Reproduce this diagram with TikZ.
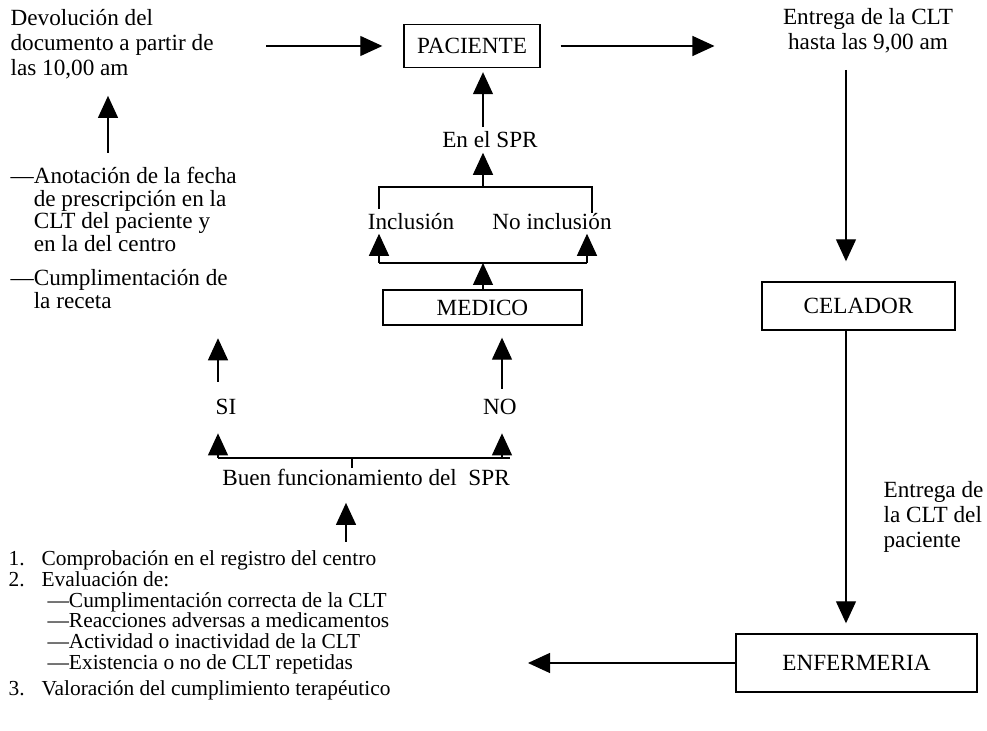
\documentclass[tikz,border=0pt]{standalone}
\usepackage{fontspec}
\setmainfont{Liberation Serif}
\usetikzlibrary{arrows.meta}
\usetikzlibrary{calc}
\usetikzlibrary{positioning}

\begin{document}
\begin{tikzpicture}[
			x=0.5pt, y=-0.5pt,
			line width=0.6pt,
			every node/.style={font=\fontsize{11.6}{12.5}\selectfont, inner sep=0pt},
			box/.style={draw, line width=0.7pt, minimum height=24pt},
			arr/.style={-{Triangle[length=11pt, width=10pt]}},
			lista/.style={font=\fontsize{10.7}{10.4}\selectfont, align=left, anchor=north west}
		]

		\useasboundingbox (0,0) rectangle (987,731);

		% boxes
		\node[box, minimum width=68pt, minimum height=21.5pt] (pac) at (472,46) {PACIENTE};
		\node[box, minimum width=99.5pt, minimum height=17.5pt] (med) at (482.5,307.5) {MEDICO};
		\node[box, minimum width=96.5pt] (cel) at (858.5,306) {CELADOR};
		\node[box, minimum width=120.5pt, minimum height=29pt] (enf) at (856.5,663) {ENFERMERIA};

		% texts
		\node[anchor=north west, align=left] (devol) at (10,9) {Devolución del\\documento a partir de\\las 10,00 am};
		\node[align=center] (entrega) at (868,31) {Entrega de la CLT\\hasta las 9,00 am};
		\node[anchor=north west, align=left, font=\fontsize{11.6}{11.25}\selectfont] (anot) at (10,167)
			{—Anotación de la fecha\\\hspace*{11.6pt}de prescripción en la\\\hspace*{11.6pt}CLT del paciente y\\\hspace*{11.6pt}en la del centro\\[6pt]
			 —Cumplimentación de\\\hspace*{11.6pt}la receta};
		\node (enel) at (490,140) {En el SPR};
		\node (incl) at (411,222) {Inclusión};
		\node (noincl) at (552,222) {No inclusión};
		\node (si) at (226,407) {SI};
		\node (no) at (500,407) {NO};
		\node (buen) at (366,477) {Buen funcionamiento del~ SPR};
		\node[anchor=north west, align=left] (pac2) at (883,481) {Entrega de\\la CLT del\\paciente};
		\node[lista] (lst) at (8,550)
			{\makebox[16.5pt][l]{1.}Comprobación en el registro del centro\\
			 \makebox[16.5pt][l]{2.}Evaluación de:\\
			 \hspace*{19.5pt}—Cumplimentación correcta de la CLT\\
			 \hspace*{19.5pt}—Reacciones adversas a medicamentos\\
			 \hspace*{19.5pt}—Actividad o inactividad de la CLT\\
			 \hspace*{19.5pt}—Existencia o no de CLT repetidas\\[2.5pt]
			 \makebox[16.5pt][l]{3.}Valoración del cumplimiento terapéutico};

		% columns and branch points
		\coordinate (colL) at (108,0);
		\coordinate (colM) at (483,0);
		\coordinate (colR) at (846,0);
		\coordinate (colB) at (346,0);
		\coordinate (bl) at (218,458);
		\coordinate (br) at (502,458);
		\coordinate (bre) at (510,458);
		\coordinate (bbl) at (379,263);
		\coordinate (bbr) at (587,263);
		\coordinate (btl) at (379,187);
		\coordinate (btr) at (592,187);
		\coordinate (enfo) at (528,663);

		% top row
		\draw[arr, shorten <=26pt, shorten >=10.5pt] (devol.east |- pac.west) -- (pac.west);
		\draw[arr, shorten <=10pt, shorten >=34pt] (pac.east) -- (pac.east -| entrega.west);

		% right column
		\draw[arr, shorten <=8pt, shorten >=10pt] (entrega.south -| colR) -- (cel.north -| colR);
		\draw[arr, shorten >=5pt] (cel.south -| colR) -- (enf.north -| colR);
		\draw[arr] (enf.west) -- (enfo);

		% left column
		\draw[arr, shorten <=7pt, shorten >=8pt] (anot.north -| colL) -- (devol.south -| colL);
		\draw[arr, shorten <=8.5pt, shorten >=14.5pt] (si.north -| bl) -- (anot.south -| bl);

		% SI / NO branch
		\draw (bl) -- (bre);
		\draw (buen.north -| colB) ++(6,0) -- (bl -| {$(colB)+(6,0)$});
		\foreach \p in {bl, br}
			\draw[arr, shorten >=9pt] (\p) -- (si.south -| \p);
		\draw[arr, shorten <=5pt, shorten >=6pt] (no.north -| br) -- (med.south -| br);
		\draw[arr, shorten <=4pt, shorten >=8.5pt] (lst.north -| colB) -- (buen.south -| colB);

		% medico bracket
		\draw (bbl) -- (bbr);
		\draw[arr] (med.north -| colM) -- (bbl -| colM);
		\draw[arr, shorten >=1.5pt] (bbl) -- (incl.south -| bbl);
		\draw[arr, shorten >=1.5pt] (bbr) -- (noincl.south -| bbr);
		\draw[shorten <=2pt] (incl.north -| btl) -- (btl) -- (btr) -- (noincl.north -| btr);
		\draw[arr, shorten >=2pt] (btl -| colM) -- (enel.south -| colM);
		\draw[arr, shorten <=2pt, shorten >=2pt] (enel.north -| colM) -- (pac.south -| colM);

	\end{tikzpicture}
\end{document}
